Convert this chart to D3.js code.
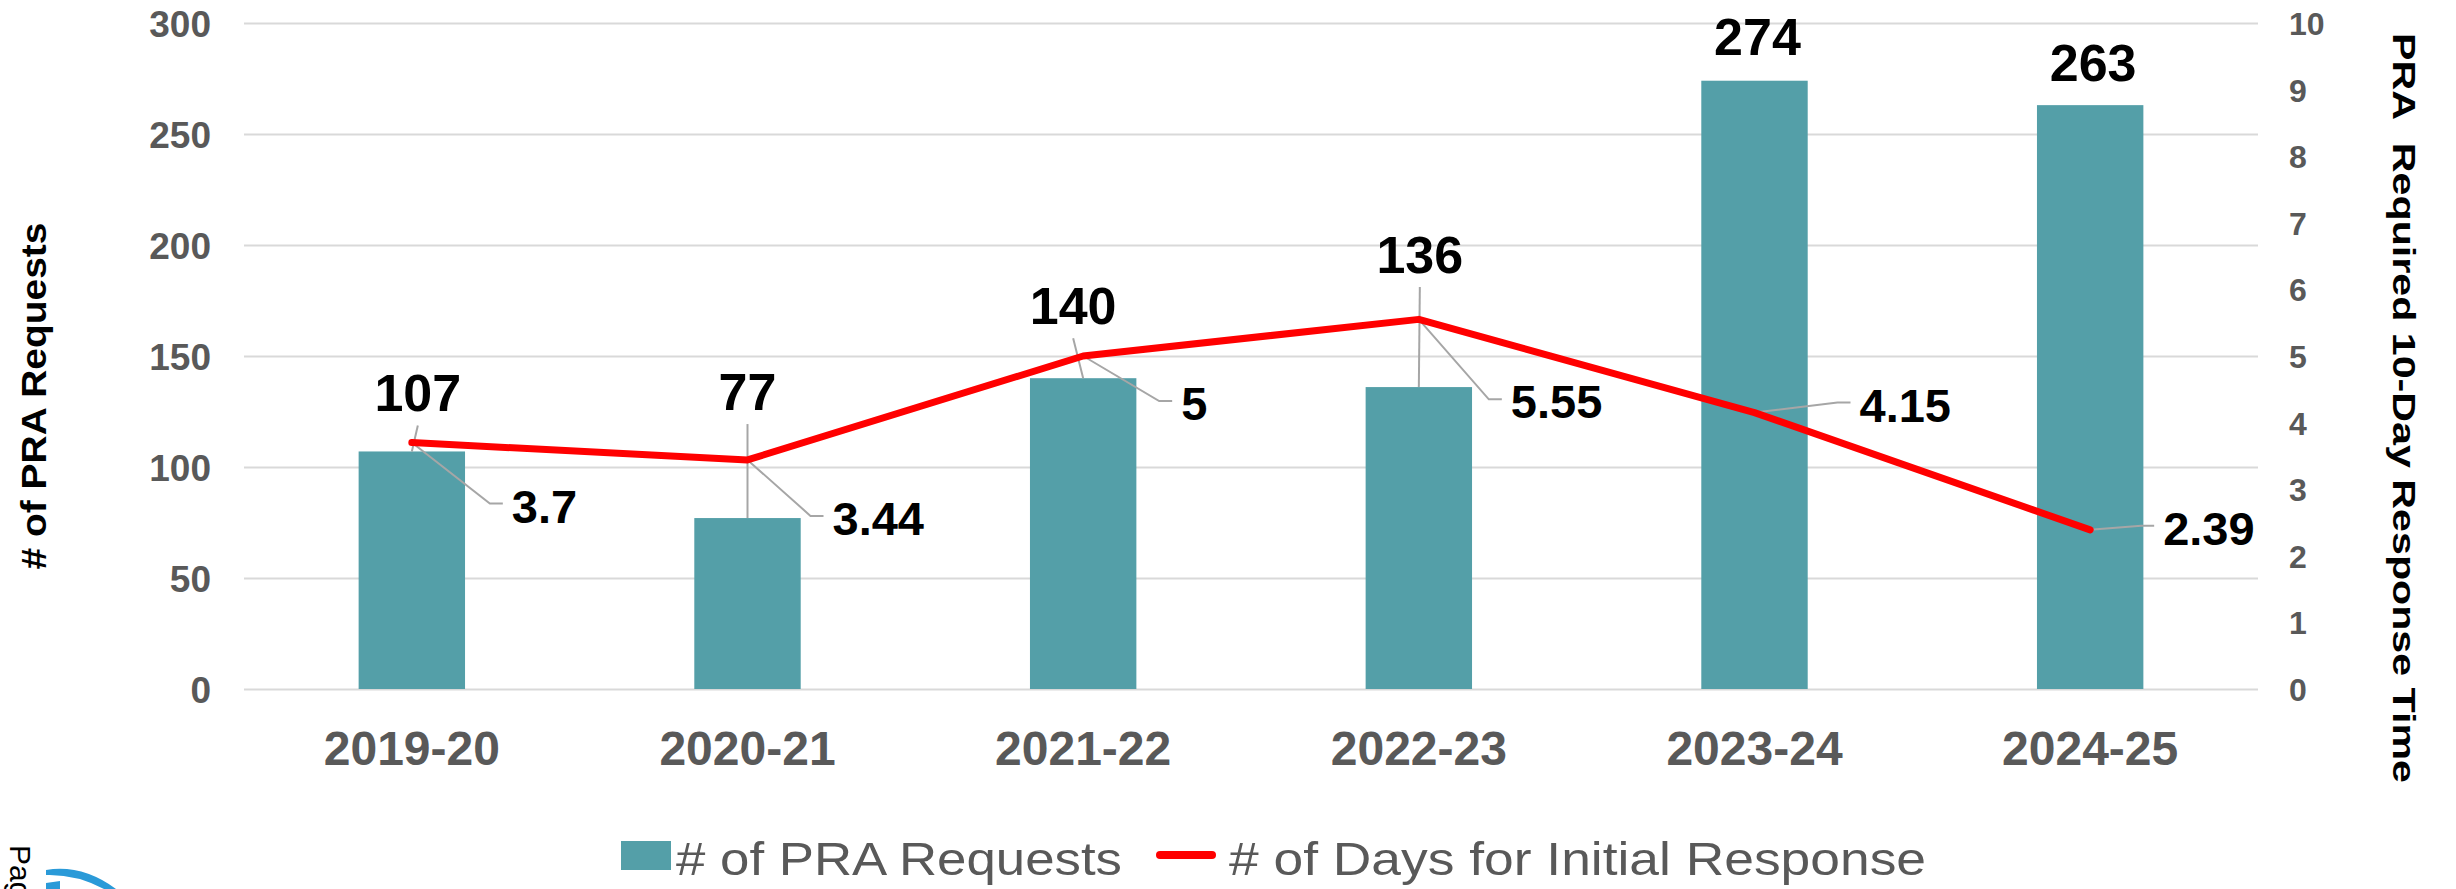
<!DOCTYPE html>
<html>
<head>
<meta charset="utf-8">
<script src="https://cdn.jsdelivr.net/npm/d3@7"></script>
<style>
  html, body { margin: 0; padding: 0; background: #fff; }
  svg { display: block; }
  text { font-family: "Liberation Sans", Arial, sans-serif; }
</style>
</head>
<body>
<svg id="chart" width="2456" height="889"></svg>
<script>
// ---- data ----
const categories = ["2019-20", "2020-21", "2021-22", "2022-23", "2023-24", "2024-25"];
const requests = [107, 77, 140, 136, 274, 263];          // # of PRA Requests (bars, left axis)
const responseDays = [3.7, 3.44, 5, 5.55, 4.15, 2.39];   // # of Days for Initial Response (line, right axis)
const leftTicks = [0, 50, 100, 150, 200, 250, 300];
const rightTicks = [0, 1, 2, 3, 4, 5, 6, 7, 8, 9, 10];
const leftTitle = "# of PRA Requests";
const rightTitle = "PRA\u00a0\u00a0Required 10-Day Response Time";
const legendItems = ["# of PRA Requests", "# of Days for Initial Response"];

// ---- layout ----
const W = 2456, H = 889;
const plot = { left: 244, right: 2258, top: 23, bottom: 689 };
const barColor = "#549FA8";
const lineColor = "#FF0000";
const gridColor = "#D9D9D9";
const tickColor = "#595959";
const leaderColor = "#A6A6A6";
const barFrac = 0.317;

// label placement offsets (relative to the mark anchor)
const barLabelOffsets = [
  { dx: 6, dy: -40, leader: true },
  { dx: 0, dy: -108, leader: true },
  { dx: -10, dy: -54, leader: true },
  { dx: 1, dy: -114, leader: true },
  { dx: 3, dy: -26, leader: false },
  { dx: 3, dy: -24, leader: false }
];
const lineLabelOffsets = [
  { dx: 100, dy: 80 },
  { dx: 85, dy: 75 },
  { dx: 98, dy: 64 },
  { dx: 92, dy: 99 },
  { dx: 105, dy: 9 },
  { dx: 73, dy: 15 }
];

const svg = d3.select("#chart");

const x = d3.scaleBand().domain(categories).range([plot.left, plot.right]).paddingInner(0).paddingOuter(0);
const yL = d3.scaleLinear().domain([0, 300]).range([plot.bottom, plot.top]);
const yR = d3.scaleLinear().domain([0, 10]).range([plot.bottom, plot.top]);
const cx = c => x(c) + x.bandwidth() / 2;
const barW = x.bandwidth() * barFrac;

// gridlines + left tick labels
const gL = svg.append("g")
  .attr("transform", `translate(${plot.left},0)`)
  .call(d3.axisLeft(yL).tickValues(leftTicks).tickSize(-(plot.right - plot.left)).tickPadding(33));
gL.select(".domain").remove();
gL.selectAll(".tick line").attr("stroke", gridColor).attr("stroke-width", 2.2);
gL.selectAll(".tick text")
  .attr("fill", tickColor).attr("font-size", 37).attr("font-weight", "bold")
  .attr("dy", "0.36em");

// right tick labels
const gR = svg.append("g")
  .attr("transform", `translate(${plot.right},0)`)
  .call(d3.axisRight(yR).tickValues(rightTicks).tickSize(0).tickPadding(31));
gR.select(".domain").remove();
gR.selectAll(".tick text")
  .attr("fill", tickColor).attr("font-size", 32).attr("font-weight", "bold")
  .attr("dy", "0.36em");

// category labels
const gX = svg.append("g")
  .attr("transform", `translate(0,${plot.bottom})`)
  .call(d3.axisBottom(x).tickSize(0).tickPadding(0));
gX.select(".domain").remove();
gX.selectAll(".tick text")
  .attr("fill", tickColor).attr("font-size", 48).attr("font-weight", "bold")
  .attr("y", 76).attr("dy", 0);

// bars
const data = categories.map((c, i) => ({ c, r: requests[i], d: responseDays[i], i }));
svg.append("g").selectAll("rect").data(data).join("rect")
  .attr("x", d => cx(d.c) - barW / 2)
  .attr("y", d => yL(d.r))
  .attr("width", barW)
  .attr("height", d => yL(0) - yL(d.r))
  .attr("fill", barColor);

// bar label leader lines
svg.append("g").selectAll("line").data(data.filter(d => barLabelOffsets[d.i].leader)).join("line")
  .attr("x1", d => cx(d.c) + barLabelOffsets[d.i].dx)
  .attr("y1", d => yL(d.r) + barLabelOffsets[d.i].dy + 14)
  .attr("x2", d => cx(d.c))
  .attr("y2", d => yL(d.r))
  .attr("stroke", leaderColor).attr("stroke-width", 2);

// line label leader lines
svg.append("g").selectAll("polyline").data(data).join("polyline")
  .attr("points", d => {
    const px = cx(d.c), py = yR(d.d);
    const o = lineLabelOffsets[d.i];
    const tx = px + o.dx, ty = py + o.dy - 19;
    return [[px, py], [tx - 22, ty], [tx - 9, ty]].map(p => p.join(",")).join(" ");
  })
  .attr("fill", "none").attr("stroke", leaderColor).attr("stroke-width", 2);

// response-time line
svg.append("path")
  .datum(data)
  .attr("d", d3.line().x(d => cx(d.c)).y(d => yR(d.d)))
  .attr("fill", "none").attr("stroke", lineColor).attr("stroke-width", 7)
  .attr("stroke-linejoin", "round").attr("stroke-linecap", "round");

// bar value labels
svg.append("g").selectAll("text").data(data).join("text")
  .attr("x", d => cx(d.c) + barLabelOffsets[d.i].dx)
  .attr("y", d => yL(d.r) + barLabelOffsets[d.i].dy)
  .attr("text-anchor", "middle")
  .attr("font-size", 52).attr("font-weight", "bold").attr("fill", "#000")
  .text(d => d.r);

// line value labels
svg.append("g").selectAll("text").data(data).join("text")
  .attr("x", d => cx(d.c) + lineLabelOffsets[d.i].dx)
  .attr("y", d => yR(d.d) + lineLabelOffsets[d.i].dy)
  .attr("font-size", 47).attr("font-weight", "bold").attr("fill", "#000")
  .text(d => d.d);

// axis titles
svg.append("text")
  .attr("transform", `translate(46,${(plot.top + plot.bottom) / 2 + 40}) rotate(-90)`)
  .attr("text-anchor", "middle")
  .attr("font-size", 35).attr("font-weight", "bold").attr("fill", "#000")
  .attr("textLength", 347).attr("lengthAdjust", "spacingAndGlyphs")
  .text(leftTitle);

svg.append("text")
  .attr("transform", `translate(2393,33) rotate(90)`)
  .attr("font-size", 32).attr("font-weight", "bold").attr("fill", "#000")
  .attr("textLength", 750).attr("lengthAdjust", "spacingAndGlyphs")
  .text(rightTitle);

// legend
const lg = svg.append("g");
lg.append("rect").attr("x", 621).attr("y", 841).attr("width", 50).attr("height", 29).attr("fill", barColor);
lg.append("text").attr("x", 676).attr("y", 875)
  .attr("font-size", 46).attr("fill", tickColor)
  .attr("textLength", 446).attr("lengthAdjust", "spacingAndGlyphs")
  .text(legendItems[0]);
lg.append("line").attr("x1", 1160).attr("x2", 1212).attr("y1", 855).attr("y2", 855)
  .attr("stroke", lineColor).attr("stroke-width", 8).attr("stroke-linecap", "round");
lg.append("text").attr("x", 1229).attr("y", 875)
  .attr("font-size", 46).attr("fill", tickColor)
  .attr("textLength", 697).attr("lengthAdjust", "spacingAndGlyphs")
  .text(legendItems[1]);

// page footer fragment in the lower-left corner
svg.append("text")
  .attr("transform", "translate(10,845) rotate(90)")
  .attr("font-size", 30).attr("fill", "#000")
  .text("Page");
svg.append("path")
  .attr("d", "M46,870 Q82,864 116,889 L104,889 Q76,874 46,875 Z")
  .attr("fill", "#2A9AD8");
svg.append("path")
  .attr("d", "M46,883 L60,881 L60,889 L46,889 Z")
  .attr("fill", "#2A9AD8");
</script>
</body>
</html>
